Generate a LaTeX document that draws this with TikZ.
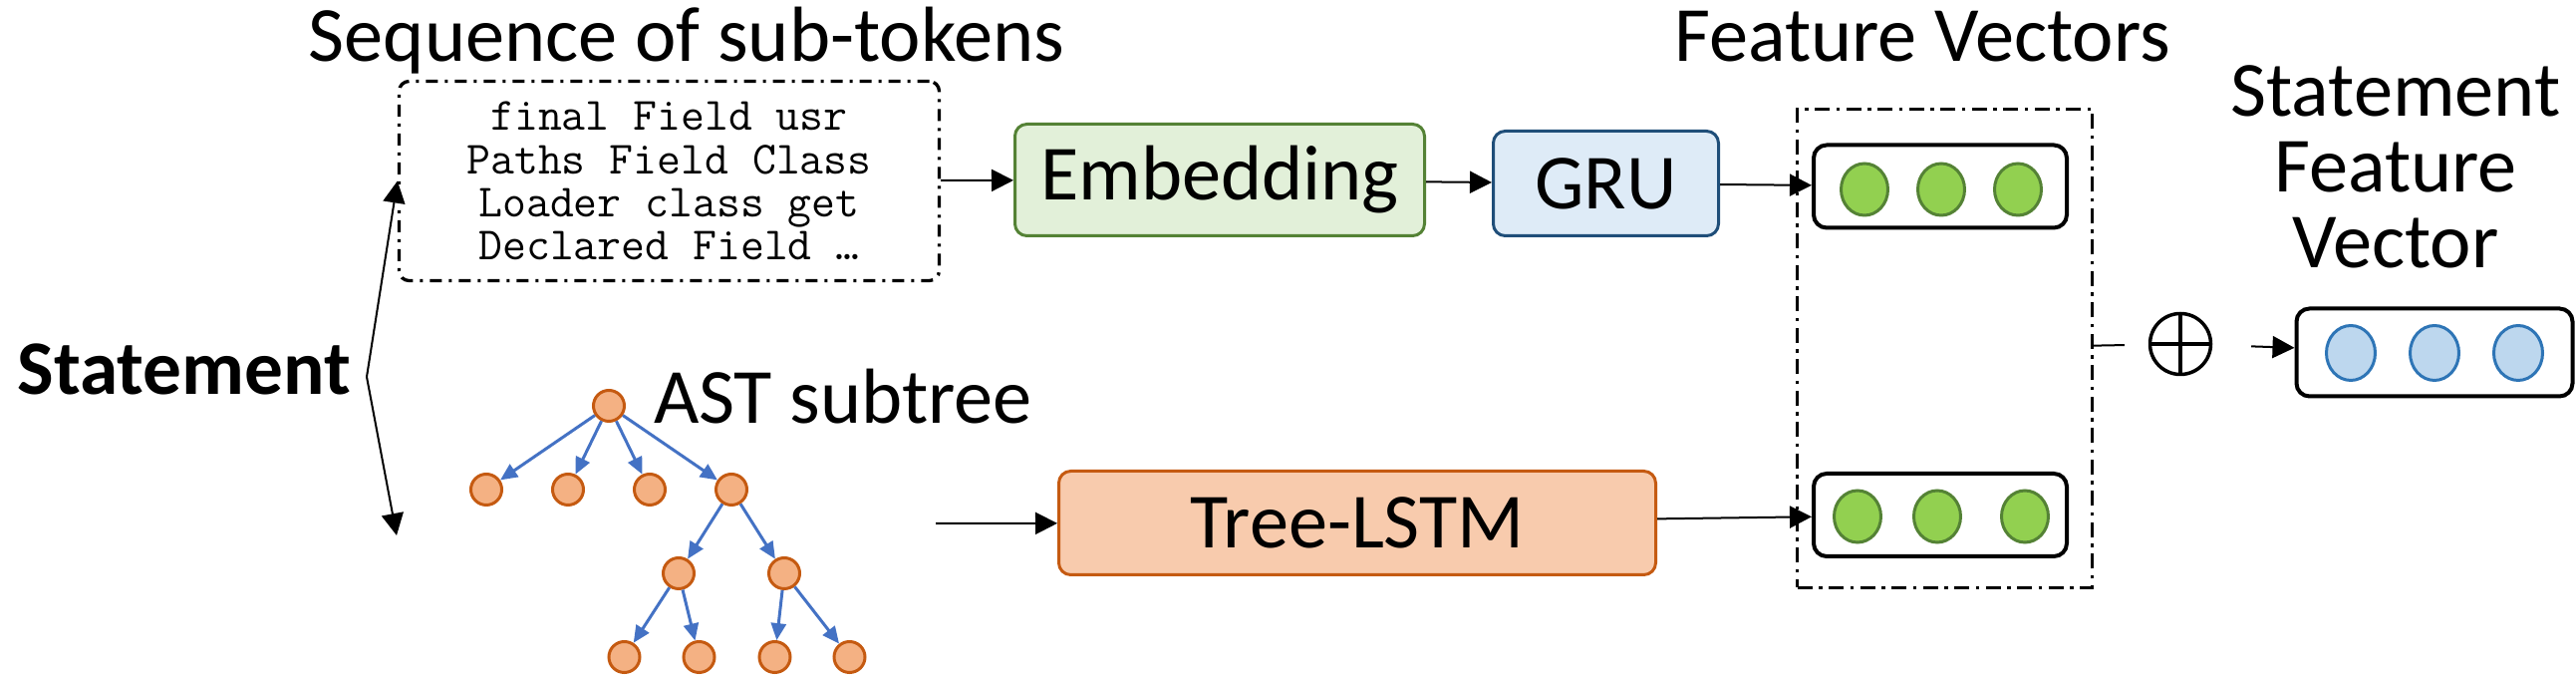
\documentclass[tikz,border=0pt]{standalone}
\usepackage{fontspec}
\setmainfont{Carlito}
\usetikzlibrary{arrows.meta,shapes.geometric}

\definecolor{embfill}{HTML}{E2F0D9}
\definecolor{embline}{HTML}{548235}
\definecolor{grufill}{HTML}{DEEBF7}
\definecolor{gruline}{HTML}{1F4E79}
\definecolor{lstmfill}{HTML}{F8CBAD}
\definecolor{astline}{HTML}{C55A11}
\definecolor{astfill}{HTML}{F4B183}
\definecolor{astedge}{HTML}{4472C4}
\definecolor{dotgreen}{HTML}{92D050}
\definecolor{dotblue}{HTML}{BDD7EE}
\definecolor{dotblueline}{HTML}{2E75B6}

\begin{document}
\begin{tikzpicture}
[line width=0.02cm,%
  font=\fontsize{22.3}{24}\selectfont,%
  arr/.style={-{Triangle[length=0.22cm,width=0.22cm]}},%
  block/.style={draw,rounded corners=0.12cm,line width=0.03cm},%
  dashdot/.style={draw,line width=0.033cm,dash pattern=on 0.15cm off 0.065cm on 0.035cm off 0.065cm},%
  vecbox/.style={draw,rounded corners=0.13cm,line width=0.04cm,minimum width=2.54cm,minimum height=0.83cm},%
  gdot/.style={ellipse,draw=embline,fill=dotgreen,line width=0.03cm,minimum width=0.47cm,minimum height=0.52cm,inner sep=0pt},%
  bdot/.style={ellipse,draw=dotblueline,fill=dotblue,line width=0.03cm,minimum width=0.49cm,minimum height=0.55cm,inner sep=0pt},%
  tnode/.style={circle,draw=astline,fill=astfill,line width=0.03cm,minimum size=0.31cm,inner sep=0pt},%
  every child node/.style={tnode},%
  edge from parent/.style={draw=astedge,line width=0.03cm,-{Triangle[length=0.17cm,width=0.15cm]}},%
  level distance=0.84cm]
\useasboundingbox (0,0) rectangle (25.85,-6.85);

\node[anchor=base west,font=\fontsize{22}{24}\selectfont\bfseries] (stmt) at (0.05,-3.96) {Statement};
\coordinate (fork) at (3.68,-3.78);
\coordinate (astin) at (3.98,-5.37);
\coordinate (astout) at (9.39,-5.25);

\node[anchor=base] (seqlabel) at (6.89,-0.62) {Sequence of sub-tokens};
\node[dashdot,dash pattern=on 0.12cm off 0.07cm on 0.03cm off 0.07cm,rounded corners=0.1cm,%
  minimum width=5.42cm,minimum height=2.0cm,align=center,%
  font=\ttfamily\fontsize{13.2}{12.3}\selectfont] (seq) at (6.715,-1.815)
  {final Field usr\\Paths Field Class\\Loader class get\\Declared Field \dots};
\node[block,fill=embfill,draw=embline,minimum width=4.11cm,minimum height=1.12cm] (emb) at (12.24,-1.805) {Embedding};
\node[block,fill=grufill,draw=gruline,minimum width=2.26cm,minimum height=1.05cm] (gru) at (16.115,-1.84) {GRU};

\node[anchor=base] (astlabel) at (8.46,-4.25) {AST subtree};
\node[tnode] (root) at (6.11,-4.07) {}
  [sibling distance=0.82cm]
  child {node {}}
  child {node {}}
  child {node {}}
  child {node {}
    [sibling distance=1.06cm]
    child {node {}
      [sibling distance=0.75cm]
      child {node[xshift=-0.17cm] {}}
      child {node[xshift=-0.17cm] {}}
    }
    child {node {}
      [sibling distance=0.75cm]
      child {node[xshift=0.28cm] {}}
      child {node[xshift=0.28cm] {}}
    }
  };
\node[block,fill=lstmfill,draw=astline,minimum width=5.99cm,minimum height=1.04cm] (lstm) at (13.62,-5.245) {Tree-LSTM};

\node[anchor=base] (fvlabel) at (19.29,-0.62) {Feature Vectors};
\node[dashdot,minimum width=2.96cm,minimum height=4.80cm] (fv) at (19.515,-3.495) {};
\node[vecbox] (vec1) at (19.47,-1.87) {};
\node[gdot] (g11) at (18.71,-1.90) {};
\node[gdot] (g12) at (19.48,-1.90) {};
\node[gdot] (g13) at (20.25,-1.90) {};
\node[vecbox] (vec2) at (19.47,-5.165) {};
\node[gdot] (g21) at (18.64,-5.18) {};
\node[gdot] (g22) at (19.44,-5.18) {};
\node[gdot] (g23) at (20.32,-5.18) {};

\node[circle,draw,line width=0.035cm,minimum size=0.61cm,inner sep=0pt,%
  path picture={\draw[line width=0.035cm] (path picture bounding box.north) -- (path picture bounding box.south)
    (path picture bounding box.west) -- (path picture bounding box.east);}] (sum) at (21.88,-3.45) {};

\node[align=center,font=\fontsize{22.3}{21.6}\selectfont] (outlabel) at (24.04,-1.675) {Statement\\Feature\\Vector};
\node[vecbox,minimum width=2.77cm,minimum height=0.88cm] (out) at (24.43,-3.535) {};
\node[bdot] (b1) at (23.59,-3.54) {};
\node[bdot] (b2) at (24.43,-3.54) {};
\node[bdot] (b3) at (25.27,-3.54) {};

\draw[arr] (fork) -- (seq.west);
\draw[arr] (fork) -- (astin);
\draw[arr] (seq) -- (emb);
\draw[arr] (emb) -- (gru);
\draw[arr] (gru) -- (vec1);
\draw[arr] (astout) -- (lstm);
\draw[arr] (lstm) -- (vec2);
\draw[shorten >=0.24cm] (fv) -- (sum);
\draw[arr,shorten <=0.39cm] (sum) -- (out);
\end{tikzpicture}
\end{document}
